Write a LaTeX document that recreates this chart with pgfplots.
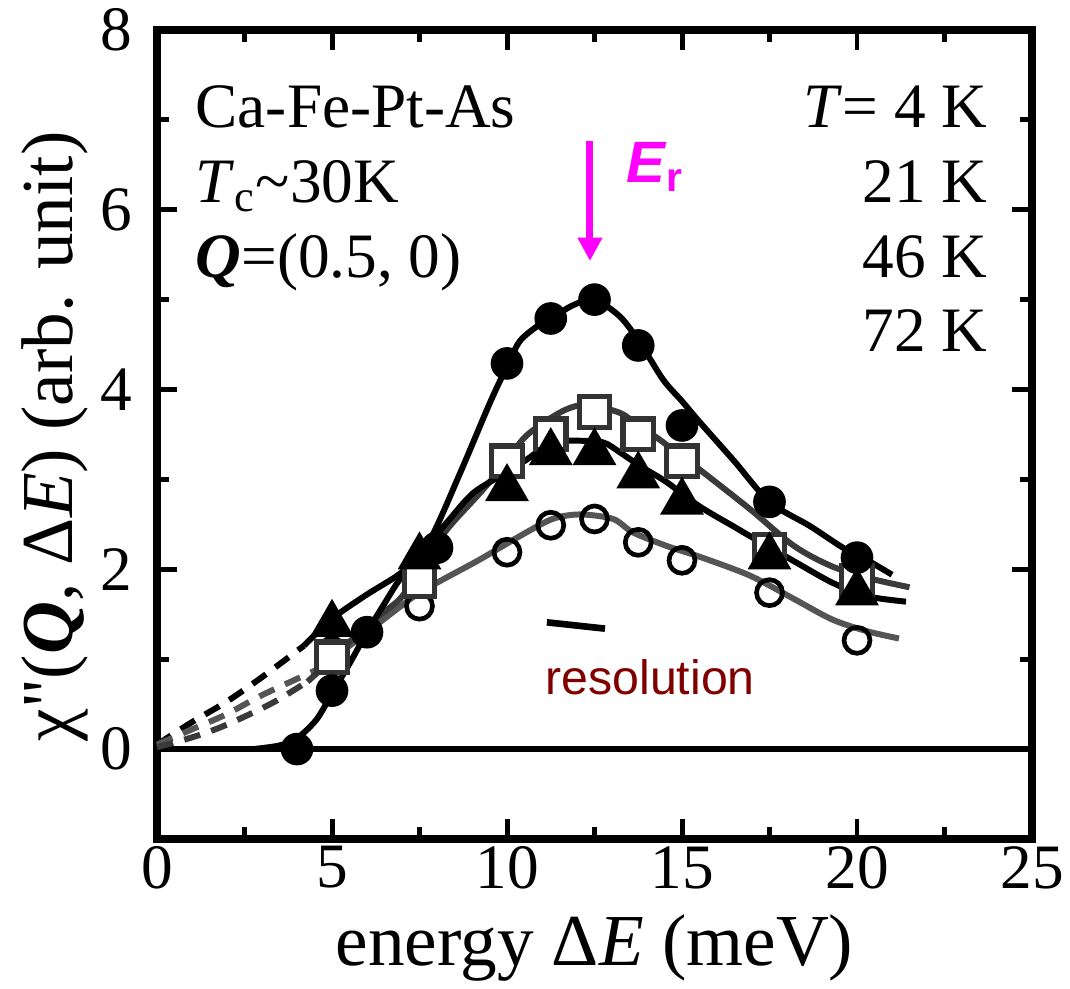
\documentclass[border=0pt]{standalone}
\usepackage{fontspec}
\setmainfont{Liberation Serif}
\setsansfont{Liberation Sans}
\newfontfamily\plainserif{Liberation Serif}
\usepackage{pgfplots}
\pgfplotsset{compat=1.18}
\usetikzlibrary{arrows.meta}
\definecolor{sqgray}{HTML}{333333}
\definecolor{cgray}{HTML}{555555}
\definecolor{dgray}{HTML}{3A3A3A}
\definecolor{resred}{HTML}{800000}
\definecolor{mag}{HTML}{FF00FF}
\begin{document}
\begin{tikzpicture}
\begin{axis}[
  width=262.8pt, height=243pt, scale only axis,
  xmin=0, xmax=25, ymin=-1, ymax=8,
  xtick={0,5,10,15,20,25}, ytick={0,2,4,6,8},
  xticklabels={0,5,10,15,20,25}, yticklabels={0,2,4,6,8},
  minor xtick={2.5,7.5,12.5,17.5,22.5}, minor ytick={-1,1,3,5,7},
  tick align=inside,
  major tick length=6pt, minor tick length=3.6pt,
  every tick/.style={black, line width=1.5pt},
  axis line style={line width=2.3pt},
  tick label style={font=\rmfamily\fontsize{19}{19}\selectfont},
  xticklabel style={yshift=-1pt, inner ysep=1pt},
  yticklabel style={xshift=-4pt},
  clip=false,
  xlabel={energy Δ\textit{E} (meV)},
  ylabel={χ{\plainserif"}(\textbf{\textit{Q}}, Δ\textit{E}) (arb. unit)},
  every axis x label/.style={at={(axis description cs:0.5,-0.1345)}, anchor=center, inner sep=0pt, font=\rmfamily\fontsize{22}{22}\selectfont},
  every axis y label/.style={at={(axis description cs:-0.1164,0.4975)}, rotate=90, anchor=center, font=\rmfamily\fontsize{22}{22}\selectfont},
]
\coordinate (bl) at (axis cs:-4.486,-2.667);
\coordinate (tr) at (axis cs:26.086,8.333);

% zero line
\addplot[black, line width=2pt] coordinates {(0,0) (25,0)};

% dashed low-energy extrapolations
\addplot[black, line width=1.8pt, dash pattern=on 5pt off 3.5pt, smooth] coordinates {(0,0.05) (1,0.3) (2,0.53) (3,0.8) (4.2,1.15)};
\addplot[cgray, line width=1.8pt, dash pattern=on 5pt off 3.5pt, smooth] coordinates {(0,0.05) (1,0.22) (2,0.39) (3,0.6) (4.5,0.87)};
\addplot[dgray, line width=1.8pt, dash pattern=on 5pt off 3.5pt, smooth] coordinates {(0,0.02) (1,0.13) (1.8,0.24) (2.66,0.39) (3.42,0.54) (4.3,0.75)};

% open-circle curve
\addplot[cgray, line width=1.8pt, smooth, tension=0.5] coordinates {
(4.5,0.87) (5,1.0) (6,1.3) (7,1.6) (7.5,1.74) (8.28,1.91) (9.23,2.11) (10.37,2.37) (11.3,2.56) (12.09,2.61) (13.03,2.56) (13.6,2.41) (14.56,2.26) (15.5,2.14) (16.94,1.93) (18.2,1.67) (19.3,1.44) (20.3,1.31) (21.2,1.23)};
% square curve
\addplot[dgray, line width=1.8pt, smooth, tension=0.5] coordinates {
(4.3,0.75) (5,1.0) (6,1.38) (6.94,1.67) (7.5,2.0) (8.28,2.44) (9.23,2.85) (10,3.2) (10.46,3.45) (11,3.62) (11.7,3.78) (12.3,3.83) (13.23,3.74) (13.75,3.6) (14.37,3.44) (15,3.25) (15.5,3.11) (16.94,2.67) (18.2,2.26) (19.3,2.03) (20.46,1.89) (21.5,1.8)};
% triangle curve
\addplot[black, line width=1.8pt, smooth, tension=0.5] coordinates {
(4.2,1.15) (5,1.45) (6,1.72) (6.94,1.95) (7.5,2.17) (8.28,2.52) (9.04,2.85) (10,3.08) (10.56,3.22) (11.3,3.41) (12.09,3.43) (12.76,3.41) (13.23,3.30) (13.8,3.15) (14.56,2.97) (15.5,2.70) (16.46,2.48) (16.94,2.37) (18.2,2.09) (19.3,1.85) (20.3,1.70) (21.4,1.64)};
% 4 K curve
\addplot[black, line width=1.8pt, smooth, tension=0.5] coordinates {
(2.75,0.0) (3.5,0.04) (4,0.12) (4.56,0.33) (5,0.62) (5.5,0.95) (6,1.3) (6.5,1.62) (6.94,1.89) (7.8,2.33) (8.66,3.07) (9.51,3.85) (10.04,4.29) (10.37,4.54) (10.85,4.70) (11.3,4.8) (11.9,4.94) (12.5,5.0) (13.23,4.81) (13.8,4.52) (14.46,4.11) (15,3.87) (15.5,3.64) (16.5,3.2) (17.5,2.75) (18.66,2.48) (19.6,2.24) (20.3,2.1) (21,1.94)};

% markers
\addplot[only marks, mark=o, mark size=3.9pt, mark options={draw=black, fill=white, line width=1.4pt}] coordinates {
(5,1.09) (7.5,1.59) (10,2.19) (11.25,2.49) (12.5,2.56) (13.75,2.3) (15,2.1) (17.5,1.74) (20,1.21)};
\addplot[only marks, mark=square*, mark size=4.6pt, mark options={draw=sqgray, fill=white, line width=1.6pt}] coordinates {
(5,1.02) (7.5,1.87) (10,3.2) (11.25,3.5) (12.5,3.75) (13.75,3.5) (15,3.2) (17.5,2.22) (20,1.87)};
\addplot[only marks, mark=triangle*, mark size=6.8pt, mark options={draw=black, fill=black, line width=0.8pt}] coordinates {
(5,1.39) (7.5,2.14) (10,2.9) (11.25,3.3) (12.5,3.3) (13.75,3.04) (15,2.75) (17.5,2.14) (20,1.74)};
\addplot[only marks, mark=*, mark size=4.7pt, mark options={draw=black, fill=black, line width=0.4pt}] coordinates {
(4,0) (5,0.65) (6,1.3) (8,2.24) (10,4.29) (11.25,4.79) (12.5,5.0) (13.75,4.49) (15,3.6) (17.5,2.75) (20,2.13)};

% resolution bar
\addplot[black, line width=2pt] coordinates {(11.14,1.41) (12.8,1.34)};
\node[anchor=base, text=resred, font=\sffamily\fontsize{14.5}{14.5}\selectfont] at (axis cs:14.09,0.61) {resolution};

% E_r arrow
\draw[mag, line width=2.1pt, -{Triangle[width=7pt,length=7pt]}] (axis cs:12.37,6.76) -- (axis cs:12.37,5.43);
\node[anchor=base west, inner sep=0pt, text=mag, font=\sffamily\bfseries\fontsize{17.5}{17.5}\selectfont] at (axis cs:13.4,6.3) {\textit{E}\textsubscript{r}};

% annotations
\node[anchor=base west, inner sep=0pt, font=\fontsize{19}{19}\selectfont] at (axis cs:1.086,6.91) {Ca-Fe-Pt-As};
\node[anchor=base west, inner sep=0pt, font=\fontsize{19}{19}\selectfont] at (axis cs:1.086,6.08) {\textit{T}\textsubscript{c}\textasciitilde30K};
\node[anchor=base west, inner sep=0pt, font=\fontsize{19}{19}\selectfont] at (axis cs:1.086,5.25) {\textbf{\textit{Q}}=(0.5, 0)};
\node[anchor=base east, inner sep=0pt, font=\fontsize{19}{19}\selectfont] at (axis cs:23.74,6.91) {\textit{T}= 4 K};
\node[anchor=base east, inner sep=0pt, font=\fontsize{19}{19}\selectfont] at (axis cs:23.74,6.08) {21 K};
\node[anchor=base east, inner sep=0pt, font=\fontsize{19}{19}\selectfont] at (axis cs:23.74,5.25) {46 K};
\node[anchor=base east, inner sep=0pt, font=\fontsize{19}{19}\selectfont] at (axis cs:23.74,4.42) {72 K};
\end{axis}
\pgfresetboundingbox
\path[use as bounding box] (bl) rectangle (tr);
\end{tikzpicture}
\end{document}
